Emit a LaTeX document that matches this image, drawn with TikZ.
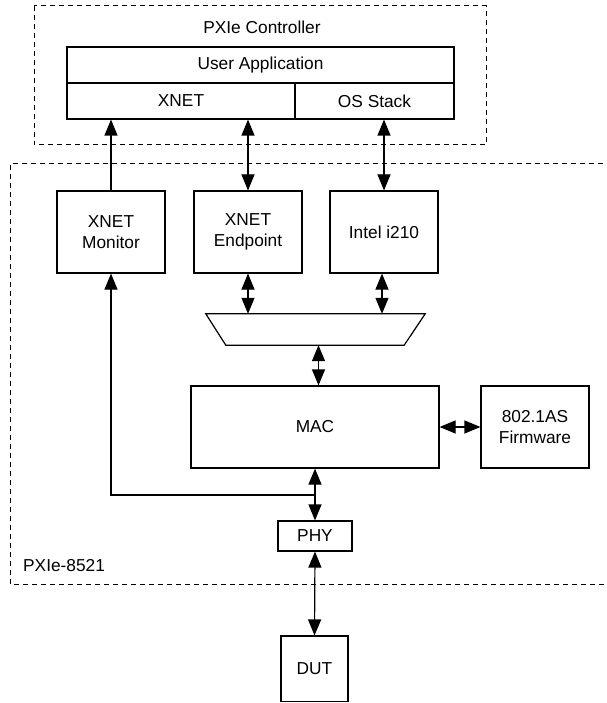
\documentclass[tikz,border=0pt]{standalone}
\usepackage{fontspec}
\setmainfont{Liberation Sans}
\usetikzlibrary{arrows.meta,calc}
\begin{document}
\begin{tikzpicture}[x=1pt,y=-1pt,
  every node/.style={font=\fontsize{17.3}{21}\selectfont, align=center, inner sep=0pt},
  blk/.style={draw, line width=1.2pt, fill=white},
  grp/.style={draw, line width=1pt, dash pattern=on 5pt off 4pt},
  con/.style={line width=1.2pt},
  biarr/.style={con, {Triangle[length=16pt,width=13pt]}-{Triangle[length=16pt,width=13pt]}},
  onearr/.style={con, -{Triangle[length=16pt,width=13pt]}}]
\useasboundingbox (0,0) rectangle (606,703);
% groups
\draw[grp] (34,6) rectangle (486,145);
\node (ctrllbl) at (262,27) {PXIe Controller};
\draw[grp] (612,164) -- (10,164) -- (10,584) -- (612,584);
\node[anchor=west] (devlbl) at (23,566) {PXIe-8521};
% controller blocks
\node[blk, minimum width=387pt, minimum height=36pt] (ua) at (260.5,65) {User Application};
\node[blk, minimum width=228pt, minimum height=36pt] (xnet) at (181,101) {XNET};
\node[blk, minimum width=159pt, minimum height=36pt] (os) at (374.5,101) {OS Stack};
% device blocks
\node[blk, minimum width=108pt, minimum height=82pt] (mon) at (111,232) {XNET\\Monitor};
\node[blk, minimum width=108pt, minimum height=82pt] (endp) at (248,232) {XNET\\Endpoint};
\node[blk, minimum width=108pt, minimum height=82pt] (i210) at (384,232) {Intel i210};
\node[minimum width=219pt, minimum height=31pt] (mux) at (315.5,329.5) {};
\draw[line width=1.2pt] (mux.north west) -- (mux.north east) -- ([xshift=-21pt]mux.south east) -- ([xshift=20pt]mux.south west) -- cycle;
\node[blk, minimum width=248pt, minimum height=82pt] (mac) at (315,427) {MAC};
\node[blk, minimum width=108pt, minimum height=82pt] (fw) at (535,427) {802.1AS\\Firmware};
\node[blk, minimum width=74pt, minimum height=30pt] (phy) at (315,536) {PHY};
\node[blk, minimum width=67pt, minimum height=65.5pt] (dut) at (314.5,668.8) {DUT};
% connectors
\draw[onearr] (mon.north) -- (mon.north |- xnet.south);
\draw[biarr] (endp.north) -- (endp.north |- xnet.south);
\draw[biarr] (i210.north) -- (i210.north |- os.south);
\draw[biarr] (endp.south) -- (endp.south |- mux.north);
\draw[biarr] ([xshift=-2pt]i210.south) -- ([xshift=-2pt]i210.south |- mux.north);
\draw[biarr] ([xshift=3pt]mux.south) -- ([xshift=3pt]mux.south |- mac.north);
\draw[biarr] (mac.east) -- (fw.west);
\draw[biarr] (mac.south) -- (phy.north);
\coordinate (j) at (315,495);
\draw[onearr] (j) -| (mon.south);
\draw[biarr] (phy.south) -- (dut.north);
\end{tikzpicture}
\end{document}
